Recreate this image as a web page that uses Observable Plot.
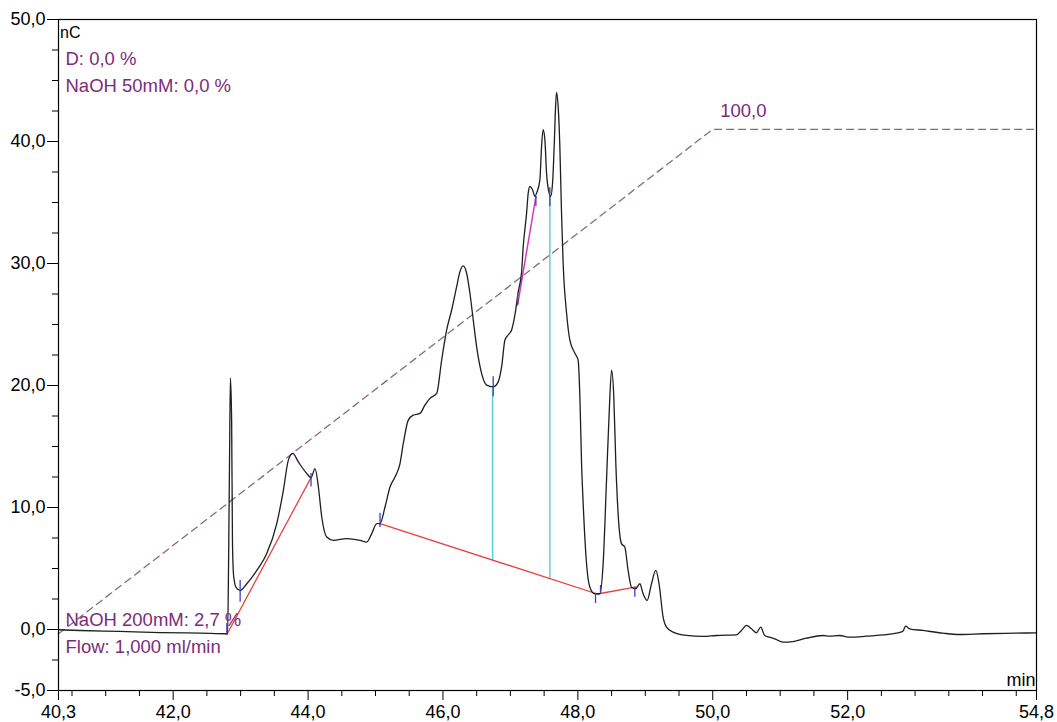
<!DOCTYPE html>
<html><head><meta charset="utf-8">
<script src="https://cdn.jsdelivr.net/npm/d3@7"></script>
<script src="https://cdn.jsdelivr.net/npm/@observablehq/plot@0.6"></script>
<style>html,body{margin:0;padding:0;background:#fff;} svg{display:block}</style>
</head><body><div id="chart"></div>
<script>
// Chromatogram trace (time in min, signal in nC)
const timeMin = [
  40.30,40.62,41.21,41.81,42.40,42.80,42.807,42.822,42.837,42.849,
  42.867,42.879,42.896,42.933,42.993,43.092,43.24,43.388,43.536,43.634,
  43.708,43.773,43.856,43.981,44.044,44.104,44.153,44.203,44.277,44.375,
  44.573,44.77,44.87,44.944,45.018,45.067,45.141,45.215,45.289,45.363,
  45.412,45.486,45.56,45.659,45.733,45.807,45.907,45.981,46.055,46.129,
  46.203,46.252,46.301,46.351,46.40,46.449,46.499,46.573,46.647,46.745,
  46.819,46.87,46.919,46.967,47.018,47.067,47.116,47.166,47.19,47.24,
  47.264,47.289,47.329,47.363,47.388,47.437,47.462,47.486,47.511,47.536,
  47.575,47.596,47.625,47.649,47.67,47.684,47.708,47.733,47.758,47.782,
  47.833,47.881,47.956,48.004,48.03,48.055,48.079,48.129,48.178,48.252,
  48.326,48.375,48.425,48.464,48.50,48.533,48.563,48.597,48.647,48.696,
  48.745,48.796,48.859,48.919,48.967,49.027,49.092,49.156,49.204,49.264,
  49.314,49.412,49.61,49.856,50.055,50.351,50.425,50.499,50.573,50.647,
  50.711,50.77,50.844,50.919,51.041,51.19,51.388,51.634,51.733,51.881,
  52.03,52.277,52.523,52.721,52.819,52.859,52.919,53.116,53.412,53.659,
  54.004,54.499,54.796
];
const signalNC = [
  -0.02,-0.08,-0.16,-0.25,-0.30,-0.35,-0.35,5.67,14.70,20.61,
  17.16,7.31,4.43,3.45,3.20,3.75,4.84,6.22,8.68,11.41,
  13.88,14.43,13.74,12.78,12.45,13.19,11.68,9.22,7.58,7.31,
  7.45,7.31,7.17,7.86,8.68,8.68,10.04,11.68,12.50,13.60,
  15.25,17.16,17.57,17.71,18.39,18.94,19.35,22.09,24.55,26.19,
  28.10,29.33,29.80,29.20,27.56,25.37,23.18,20.99,20.03,19.89,
  20.30,21.54,23.73,24.14,24.55,25.78,27.67,29.31,31.39,34.13,
  35.77,36.31,36.04,35.49,35.77,36.86,39.60,40.97,40.15,37.41,
  35.77,35.49,36.59,39.60,42.88,44.03,42.88,39.60,34.13,30.02,
  25.92,23.73,22.64,22.09,19.07,13.60,10.32,5.39,3.47,2.93,
  2.93,5.39,12.23,17.71,21.26,19.07,13.60,9.50,7.04,6.76,
  4.84,3.47,3.34,3.75,2.93,2.38,3.75,4.84,3.75,1.01,
  0.19,-0.22,-0.49,-0.57,-0.49,-0.44,-0.08,0.33,0.06,-0.27,
  0.19,-0.49,-0.63,-0.76,-1.04,-0.99,-0.71,-0.49,-0.55,-0.49,
  -0.63,-0.55,-0.44,-0.30,-0.14,0.27,0.06,-0.08,-0.30,-0.41,
  -0.35,-0.30,-0.27
];

// Gradient profile (dashed)
const gradX = [40.3, 50.0, 54.8];
const gradY = [-0.35, 41.0, 41.0];
const gradLabel = "100,0";

// Integration baselines (red)
const baseX = [42.796, 44.044, 45.067, 48.289, 48.87];
const baseY = [-0.41, 12.45, 8.68, 2.91, 3.50];
const baseGroup = ["a", "a", "b", "b", "b"];

// Perpendicular drops (cyan)
const dropX = [46.736, 47.585];
const dropTop = [19.89, 35.49];
const dropBottom = [5.69, 4.17];

// Skim line (magenta)
const skimX = [47.107, 47.378];
const skimY = [26.60, 35.49];

// Peak delimiter marks (blue)
const markX  = [42.796, 42.993, 44.044, 45.067, 46.745, 47.107, 47.378, 47.585, 48.262, 48.336, 48.845];
const markLo = [-0.41, 2.24, 11.68, 8.37, 19.07, 26.60, 34.67, 34.67, 2.13, 2.96, 2.65];
const markHi = [0.49, 4.02, 12.78, 9.52, 20.71, 27.40, 35.49, 36.20, 2.96, 3.61, 3.47];

// Ticks
const xMajor = [40.3, 42, 44, 46, 48, 50, 52, 54.8];
const xMinor = [40.5, 41, 41.5, 42.5, 43, 43.5, 44.5, 45, 45.5, 46.5, 47, 47.5, 48.5, 49, 49.5, 50.5, 51, 51.5, 52.5, 53, 53.5, 54, 54.5];
const yMajor = [-5, 0, 10, 20, 30, 40, 50];
const yMinor = [-2.5, 2.5, 5, 7.5, 12.5, 15, 17.5, 22.5, 25, 27.5, 32.5, 35, 37.5, 42.5, 45, 47.5];

// Annotation texts
const unitY = "nC";
const unitX = "min";
const topNotes = ["D: 0,0 %", "NaOH 50mM: 0,0 %"];
const bottomNotes = ["NaOH 200mM: 2,7 %", "Flow: 1,000 ml/min"];

const trace = timeMin.map((t, i) => ({t, v: signalNC[i]}));
const grad = gradX.map((x, i) => ({x, y: gradY[i]}));
const base = baseX.map((x, i) => ({x, y: baseY[i], g: baseGroup[i]}));
const drops = dropX.map((x, i) => ({x, y1: dropBottom[i], y2: dropTop[i]}));
const skim = skimX.map((x, i) => ({x, y: skimY[i]}));
const marks = markX.map((x, i) => ({x, y1: markLo[i], y2: markHi[i]}));
const fmt = d => d.toFixed(1).replace(".", ",");
const purple = "#7d2b78";

const note = (s, anchor, dy) => Plot.text([s], {frameAnchor: anchor, textAnchor: "start", lineAnchor: "bottom", dx: 7, dy, fill: purple, fontSize: 18.5});

const chart = Plot.plot({
  width: 1057, height: 722,
  marginLeft: 58, marginRight: 21, marginTop: 19, marginBottom: 32,
  x: {domain: [40.3, 54.8], label: null},
  y: {domain: [-5, 50], label: null},
  style: {fontFamily: "'Liberation Sans', Arial, sans-serif", fontSize: "18px", color: "#000", background: "#fff"},
  marks: [
    Plot.line(grad, {x: "x", y: "y", stroke: "#8a6787", strokeWidth: 1.3, strokeDasharray: "7,5"}),
    Plot.ruleX(drops, {x: "x", y1: "y1", y2: "y2", stroke: "#5ccfd6", strokeWidth: 1.5}),
    Plot.line(base, {x: "x", y: "y", z: "g", stroke: "#e8413c", strokeWidth: 1.3}),
    Plot.line(skim, {x: "x", y: "y", stroke: "#d13bbf", strokeWidth: 1.5}),
    Plot.line(trace, {x: "t", y: "v", stroke: "#1e1e1e", strokeWidth: 1.3, curve: "monotone-x"}),
    Plot.ruleX(marks, {x: "x", y1: "y1", y2: "y2", stroke: "#3b3fbf", strokeWidth: 1.3}),
    Plot.frame({stroke: "#000", strokeWidth: 1.2}),
    Plot.axisX(xMajor, {anchor: "bottom", tickSize: 10, tickPadding: 5, tickFormat: fmt, label: null}),
    Plot.axisX(xMinor, {anchor: "bottom", tickSize: 6, tickFormat: () => "", label: null}),
    Plot.axisY(yMajor, {anchor: "left", tickSize: 11, tickPadding: 2, tickFormat: fmt, label: null}),
    Plot.axisY(yMinor, {anchor: "left", tickSize: 6, tickFormat: () => "", label: null}),
    Plot.text([unitY], {frameAnchor: "top-left", textAnchor: "start", lineAnchor: "bottom", dx: 1.5, dy: 18, fontSize: 16, fill: "#000"}),
    note(topNotes[0], "top-left", 45),
    note(topNotes[1], "top-left", 72),
    note(bottomNotes[0], "bottom-left", -65),
    note(bottomNotes[1], "bottom-left", -38),
    Plot.text([unitX], {frameAnchor: "bottom-right", textAnchor: "end", lineAnchor: "bottom", dx: -1, dy: -5, fill: "#000"}),
    Plot.text([{x: gradX[1], y: gradY[1], s: gradLabel}], {x: "x", y: "y", text: "s", textAnchor: "start", lineAnchor: "bottom", dx: 7.5, dy: -12, fill: purple, fontSize: 18.5})
  ]
});
document.getElementById("chart").appendChild(chart);
</script>
</body></html>
